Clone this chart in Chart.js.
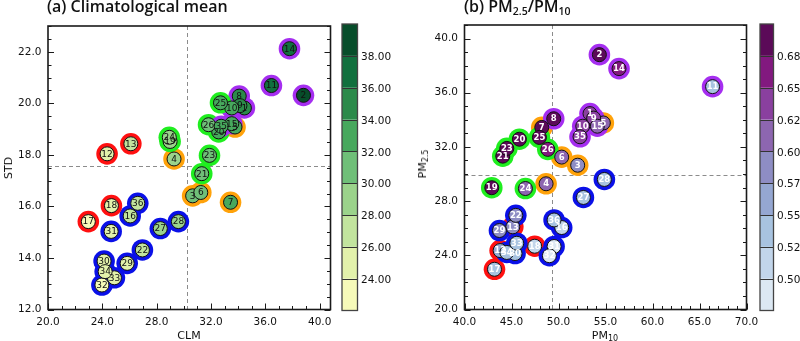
<!DOCTYPE html>
<html>
<head>
<meta charset="utf-8">
<script src="https://cdn.jsdelivr.net/npm/chart.js@4.4.1/dist/chart.umd.min.js"></script>
<style>
  html, body { margin: 0; padding: 0; background: #fff; }
  #wrap { position: relative; width: 800px; height: 341px; overflow: hidden; color: #111; }
  canvas { position: absolute; top: 0; }
  .ttl { position: absolute; font: 600 16px 'Open Sans', sans-serif; white-space: nowrap; line-height: 15px; }
  .ttl sub { font-size: 10.5px; vertical-align: -3px; line-height: 0; }
  .ax { position: absolute; font: 11px 'DejaVu Sans', sans-serif; white-space: nowrap; transform: translate(-50%, -50%); line-height: 12px; }
  .ax sub { font-size: 8px; vertical-align: -2px; line-height: 0; }
  .rot { transform: translate(-50%, -50%) rotate(-90deg); }
</style>
</head>
<body>
<div id="wrap">
  <canvas id="chartA" width="400" height="341" style="left:0"></canvas>
  <canvas id="chartB" width="400" height="341" style="left:400px"></canvas>
  <div class="ttl" style="left:47px; top:-1px">(a) Climatological mean</div>
  <div class="ttl" style="left:464px; top:-1px">(b) PM<sub>2.5</sub>/PM<sub>10</sub></div>
  <div class="ax" style="left:189px; top:336px">CLM</div>
  <div class="ax rot" style="left:9px; top:168px">STD</div>
  <div class="ax" style="left:605px; top:336px">PM<sub>10</sub></div>
  <div class="ax rot" style="left:423px; top:164px">PM<sub>2.5</sub></div>
</div>
<script>
// station numbers 1..36
const stationIds = [1, 2, 3, 4, 5, 6, 7, 8, 9, 10, 11, 12, 13, 14, 15, 16, 17, 18,
  19, 20, 21, 22, 23, 24, 25, 26, 27, 28, 29, 30, 31, 32, 33, 34, 35, 36];

// cluster of each station (ring colour)
const stationGroup = ['P', 'P', 'O', 'O', 'O', 'O', 'O', 'P', 'P', 'P', 'P', 'R', 'R', 'P', 'P', 'B', 'R', 'R',
  'G', 'G', 'G', 'B', 'G', 'G', 'G', 'G', 'B', 'B', 'B', 'B', 'B', 'B', 'B', 'B', 'P', 'B'];

// PM2.5 climatological mean (x of panel a, y of panel b)
const pm25Mean = [34.46, 38.81, 30.65, 29.28, 33.77, 31.25, 33.44, 34.08, 34.13, 33.53, 36.45, 24.35,
  26.10, 37.78, 33.53, 26.05, 22.97, 24.67, 28.99, 32.57, 31.32, 26.95, 31.89, 28.93,
  32.70, 31.82, 28.27, 29.60, 25.83, 24.13, 24.65, 23.97, 24.89, 24.21, 32.75, 26.61];

// standard deviation (y of panel a)
const pm25Std = [19.82, 20.31, 16.41, 17.84, 19.08, 16.54, 16.16, 20.28, 19.91, 19.82, 20.69, 18.04,
  18.43, 22.12, 19.21, 15.63, 15.41, 16.03, 18.52, 18.89, 17.27, 14.31, 17.98, 18.68,
  20.02, 19.17, 15.14, 15.41, 13.79, 13.88, 15.03, 12.95, 13.23, 13.47, 19.11, 16.12];

// PM10 mean (x of panel b)
const pm10Mean = [53.35, 54.35, 52.04, 48.68, 54.77, 50.34, 48.22, 49.49, 53.74, 52.58, 66.39, 43.79,
  45.14, 56.44, 54.13, 50.34, 43.19, 47.47, 42.90, 45.84, 44.07, 45.46, 44.50, 46.48,
  47.97, 48.86, 52.65, 54.88, 43.72, 45.38, 49.53, 49.03, 45.56, 44.50, 52.29, 49.53];

// axis ticks
const xTicksA = [20, 24, 28, 32, 36, 40];
const yTicksA = [12, 14, 16, 18, 20, 22];
const xTicksB = [40, 45, 50, 55, 60, 65, 70];
const yTicksB = [20, 24, 28, 32, 36, 40];

// reference (dashed) lines
const refA = { x: 30.25, y: 17.58 };
const refB = { x: 49.35, y: 29.9 };

// colour bars
const cbBoundsA = [24, 26, 28, 30, 32, 34, 36, 38];
const cbLabelsA = ['24.00', '26.00', '28.00', '30.00', '32.00', '34.00', '36.00', '38.00'];
const cbColorsA = ['#f6fab9', '#e2f1ab', '#c2e49e', '#9bd38b', '#6fbf78', '#47a85d', '#2b8a4a', '#11703e', '#074d2a'];
const cbBoundsB = [0.5, 0.525, 0.55, 0.575, 0.6, 0.625, 0.65, 0.675];
const cbLabelsB = ['0.50', '0.52', '0.55', '0.57', '0.60', '0.62', '0.65', '0.68'];
const cbColorsB = ['#dce8f3', '#c2d5ea', '#a8c3e0', '#95a7d2', '#8e8dc4', '#8d66b0', '#8a409f', '#82197f', '#5b0a58'];

const groupColors = { R: '#ff1010', O: '#ffa20a', G: '#20ee20', B: '#0a10e8', P: '#a52ef0' };

function binColor(v, bounds, colors) {
    let k = 0;
    while (k < bounds.length && v >= bounds[k]) k++;
    return colors[k];
}

const decor = {
    id: 'decor',
    beforeDatasetsDraw(chart, args, o) {
        const { ctx, chartArea: a, scales: { x, y } } = chart;
        ctx.save();
        ctx.strokeStyle = '#8c8c8c';
        ctx.lineWidth = 1;
        ctx.setLineDash([4, 3]);
        const px = Math.round(x.getPixelForValue(o.ref.x)) + 0.5;
        const py = Math.round(y.getPixelForValue(o.ref.y)) + 0.5;
        ctx.beginPath();
        ctx.moveTo(px, a.top); ctx.lineTo(px, a.bottom);
        ctx.moveTo(a.left, py); ctx.lineTo(a.right, py);
        ctx.stroke();
        ctx.restore();
    },
    afterDatasetsDraw(chart, args, o) {
        const ctx = chart.ctx;
        const meta = chart.getDatasetMeta(0);
        ctx.save();
        ctx.font = o.labelFont;
        ctx.fillStyle = o.labelColor;
        ctx.textAlign = 'center';
        ctx.textBaseline = 'middle';
        meta.data.forEach((pt, i) => ctx.fillText(String(stationIds[i]), pt.x, pt.y + 0.5));
        ctx.restore();
    },
    afterDraw(chart, args, o) {
        const { ctx, chartArea: a, scales: { x, y } } = chart;
        ctx.save();
        ctx.strokeStyle = '#1a1a1a';
        // tick marks, inward, not on top edge
        ctx.lineWidth = 1;
        ctx.beginPath();
        for (let v = x.min; v <= x.max + 1e-9; v += o.minorX) {
            const major = o.xTicks.some(t => Math.abs(t - v) < 1e-6);
            const len = major ? 6 : 3.5;
            const px = Math.round(x.getPixelForValue(v)) + 0.5;
            ctx.moveTo(px, a.bottom); ctx.lineTo(px, a.bottom - len);
        }
        for (let v = y.min; v <= y.max + 1e-9; v += o.minorY) {
            const major = o.yTicks.some(t => Math.abs(t - v) < 1e-6);
            const len = major ? 6 : 3.5;
            const py = Math.round(y.getPixelForValue(v)) + 0.5;
            ctx.moveTo(a.left, py); ctx.lineTo(a.left + len, py);
            ctx.moveTo(a.right, py); ctx.lineTo(a.right - len, py);
        }
        ctx.stroke();
        // frame
        ctx.lineWidth = 1.6;
        ctx.strokeRect(a.left, a.top, a.right - a.left, a.bottom - a.top);

        // colour bar
        const cb = o.cb;
        const n = cb.colors.length;
        const h = (cb.bottom - cb.top) / n;
        cb.colors.forEach((c, i) => {
            ctx.fillStyle = c;
            ctx.fillRect(cb.x, cb.bottom - (i + 1) * h, cb.w, h);
        });
        ctx.strokeStyle = '#333';
        ctx.lineWidth = 1;
        ctx.beginPath();
        for (let j = 1; j < n; j++) {
            const yy = Math.round(cb.bottom - j * h) + 0.5;
            ctx.moveTo(cb.x, yy); ctx.lineTo(cb.x + cb.w, yy);
        }
        ctx.stroke();
        ctx.strokeStyle = '#444';
        ctx.lineWidth = 1.3;
        ctx.strokeRect(cb.x, cb.top, cb.w, cb.bottom - cb.top);
        ctx.fillStyle = '#111';
        ctx.font = '10.5px "DejaVu Sans"';
        ctx.textAlign = 'left';
        ctx.textBaseline = 'middle';
        cb.labels.forEach((t, j) => {
            ctx.fillText(t, cb.x + cb.w + 3.5, cb.bottom - (j + 1) * h + 1.5);
        });
        ctx.restore();
    }
};

function makeChart(id, xs, ys, fills, cfg) {
    const pts = xs.map((v, i) => ({ x: v, y: ys[i] }));
    const rings = stationGroup.map(g => groupColors[g]);
    const tickFont = { family: 'DejaVu Sans', size: 10.5 };
    return new Chart(document.getElementById(id), {
        type: 'scatter',
        data: {
            datasets: [
                { data: pts, pointRadius: 7, pointBackgroundColor: fills, pointBorderColor: '#111', pointBorderWidth: 1, order: 1 },
                { data: pts, pointRadius: 10.8, pointBackgroundColor: rings, pointBorderWidth: 0, order: 2 }
            ]
        },
        options: {
            responsive: false,
            animation: false,
            events: [],
            layout: { padding: { left: 0, top: cfg.top, right: 400 - cfg.right, bottom: 0 } },
            plugins: {
                legend: { display: false },
                tooltip: { enabled: false },
                decor: cfg.decor
            },
            scales: {
                x: {
                    type: 'linear', min: cfg.xMin, max: cfg.xMax,
                    afterBuildTicks: s => { s.ticks = cfg.decor.xTicks.map(v => ({ value: v })); },
                    afterFit: s => { s.height = 341 - cfg.bottom; },
                    grid: { display: false, drawTicks: false },
                    border: { display: false },
                    ticks: { font: tickFont, color: '#111', padding: 6, maxRotation: 0, callback: v => v.toFixed(1) }
                },
                y: {
                    type: 'linear', min: cfg.yMin, max: cfg.yMax,
                    afterBuildTicks: s => { s.ticks = cfg.decor.yTicks.map(v => ({ value: v })); },
                    afterFit: s => { s.width = cfg.left; },
                    grid: { display: false, drawTicks: false },
                    border: { display: false },
                    ticks: { font: tickFont, color: '#111', padding: 6.5, callback: v => v.toFixed(1) }
                }
            }
        },
        plugins: [decor]
    });
}

makeChart('chartA', pm25Mean, pm25Std,
    pm25Mean.map(v => binColor(v, cbBoundsA, cbColorsA)),
    {
        left: 48, right: 330.5, top: 26, bottom: 309.5,
        xMin: 20, xMax: 40.8, yMin: 12, yMax: 23,
        decor: {
            ref: refA, xTicks: xTicksA, yTicks: yTicksA, minorX: 1, minorY: 0.5,
            labelFont: '9px "DejaVu Sans"', labelColor: '#111',
            cb: { x: 342, w: 15.5, top: 24, bottom: 310.5, colors: cbColorsA, labels: cbLabelsA }
        }
    });

makeChart('chartB', pm10Mean, pm25Mean,
    pm25Mean.map((v, i) => binColor(v / pm10Mean[i], cbBoundsB, cbColorsB)),
    {
        left: 64.5, right: 346.5, top: 25, bottom: 309.5,
        xMin: 40, xMax: 70, yMin: 20, yMax: 41,
        decor: {
            ref: refB, xTicks: xTicksB, yTicks: yTicksB, minorX: 1, minorY: 1,
            labelFont: 'bold 8.5px "DejaVu Sans"', labelColor: '#fff',
            cb: { x: 360, w: 13.5, top: 24, bottom: 310.5, colors: cbColorsB, labels: cbLabelsB }
        }
    });
</script>
</body>
</html>
